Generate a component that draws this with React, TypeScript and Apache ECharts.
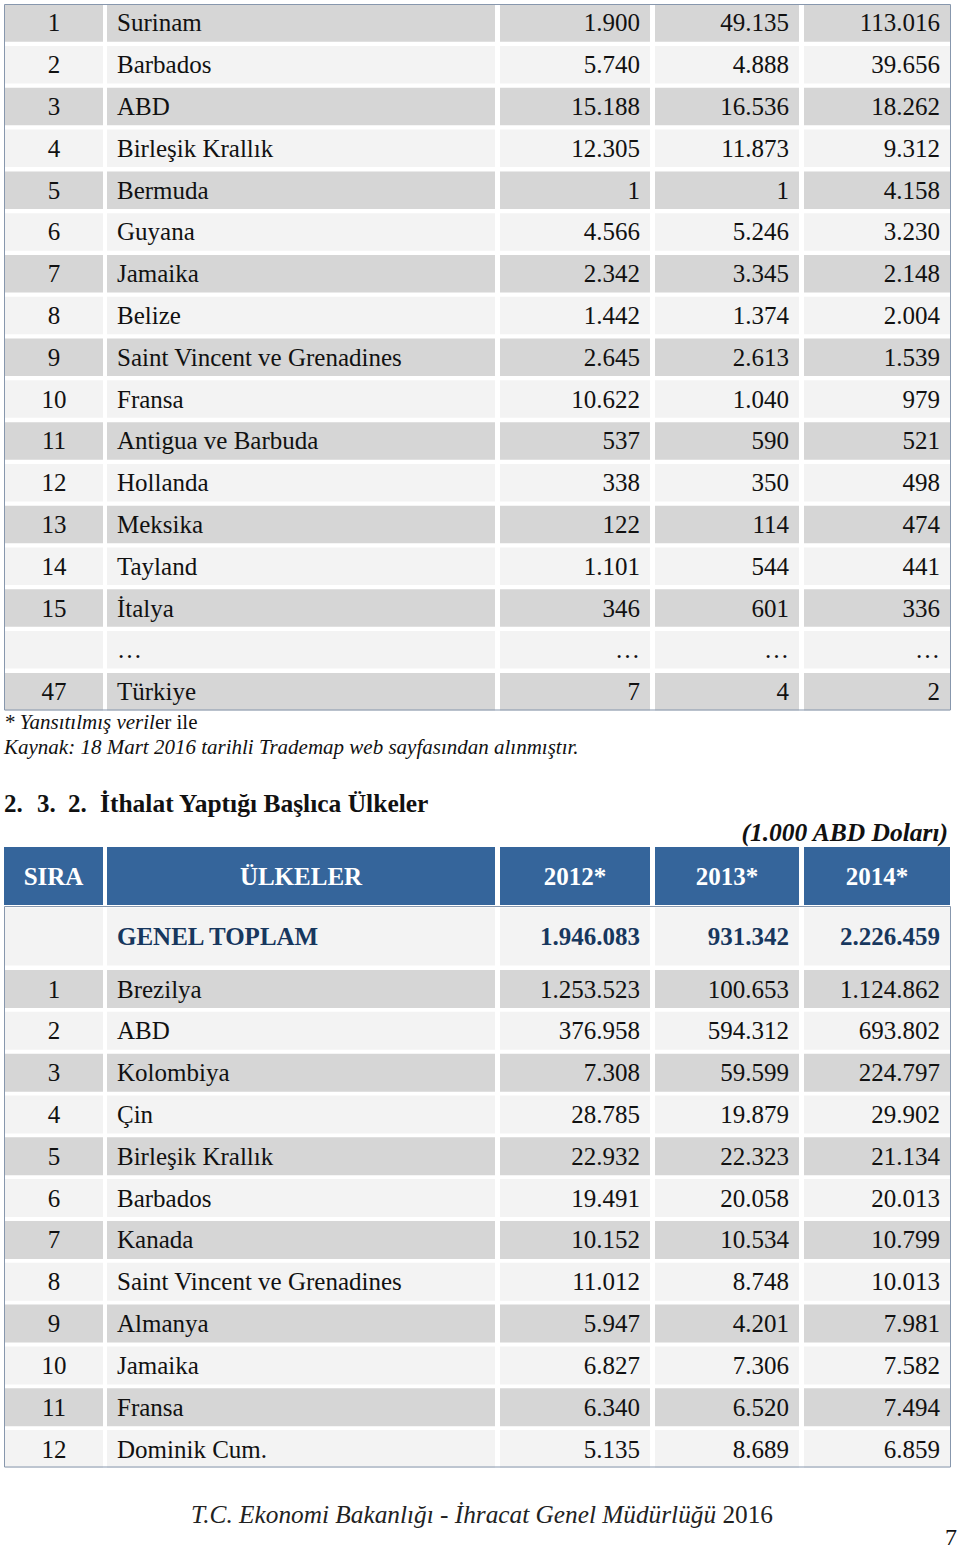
import React, { useEffect, useRef } from "react";
import * as echarts from "echarts";

// ---------- DATA ----------
const exportRanks = ["1", "2", "3", "4", "5", "6", "7", "8", "9", "10", "11", "12", "13", "14", "15", "", "47"];
const exportCountries = [
  "Surinam", "Barbados", "ABD", "Birleşik Krallık", "Bermuda", "Guyana", "Jamaika", "Belize",
  "Saint Vincent ve Grenadines", "Fransa", "Antigua ve Barbuda", "Hollanda", "Meksika", "Tayland",
  "İtalya", "…", "Türkiye",
];
const export2012: (number | null)[] = [1900, 5740, 15188, 12305, 1, 4566, 2342, 1442, 2645, 10622, 537, 338, 122, 1101, 346, null, 7];
const export2013: (number | null)[] = [49135, 4888, 16536, 11873, 1, 5246, 3345, 1374, 2613, 1040, 590, 350, 114, 544, 601, null, 4];
const export2014: (number | null)[] = [113016, 39656, 18262, 9312, 4158, 3230, 2148, 2004, 1539, 979, 521, 498, 474, 441, 336, null, 2];

const headerLabels = ["SIRA", "ÜLKELER", "2012*", "2013*", "2014*"];
const totalLabel = "GENEL TOPLAM";
const importTotal = [1946083, 931342, 2226459];

const importRanks = ["1", "2", "3", "4", "5", "6", "7", "8", "9", "10", "11", "12"];
const importCountries = [
  "Brezilya", "ABD", "Kolombiya", "Çin", "Birleşik Krallık", "Barbados", "Kanada",
  "Saint Vincent ve Grenadines", "Almanya", "Jamaika", "Fransa", "Dominik Cum.",
];
const import2012 = [1253523, 376958, 7308, 28785, 22932, 19491, 10152, 11012, 5947, 6827, 6340, 5135];
const import2013 = [100653, 594312, 59599, 19879, 22323, 20058, 10534, 8748, 4201, 7306, 6520, 8689];
const import2014 = [1124862, 693802, 224797, 29902, 21134, 20013, 10799, 10013, 7981, 7582, 7494, 6859];

// ---------- STYLE / LAYOUT ----------
const SERIF = "'Liberation Serif', 'Times New Roman', serif";
const FS = 25;
const GRAY = "#d6d6d6";
const LIGHT = "#f3f3f3";
const BLUE = "#35659b";
const NAVY = "#17375e";
const TEXT = "#111111";
const BORDER = "#8797ad";

type Align = "left" | "center" | "right";
const COLS: { x0: number; x1: number; align: Align }[] = [
  { x0: 5, x1: 103, align: "center" },
  { x0: 107, x1: 495, align: "left" },
  { x0: 500, x1: 650, align: "right" },
  { x0: 655, x1: 799, align: "right" },
  { x0: 804, x1: 950, align: "right" },
];

function fmt(v: number | null): string {
  if (v === null) return "…";
  return String(v).replace(/\B(?=(\d{3})+(?!\d))/g, ".");
}

interface RowSpec {
  cells: string[];
  fill: string;
  color: string;
  bold: boolean;
  aligns?: Align[];
  firstX?: number;
}

const table1Rows: RowSpec[] = exportRanks.map((r, i) => ({
  cells: [r, exportCountries[i], fmt(export2012[i]), fmt(export2013[i]), fmt(export2014[i])],
  fill: i % 2 === 0 ? GRAY : LIGHT,
  color: TEXT,
  bold: false,
}));

const headRows: RowSpec[] = [
  {
    cells: headerLabels,
    fill: BLUE,
    color: "#ffffff",
    bold: true,
    aligns: ["center", "center", "center", "center", "center"],
    firstX: 4,
  },
  {
    cells: ["", totalLabel, ...importTotal.map(fmt)],
    fill: LIGHT,
    color: NAVY,
    bold: true,
  },
];

const table2Rows: RowSpec[] = importRanks.map((r, i) => ({
  cells: [r, importCountries[i], fmt(import2012[i]), fmt(import2013[i]), fmt(import2014[i])],
  fill: i % 2 === 0 ? GRAY : LIGHT,
  color: TEXT,
  bold: false,
}));

function makeRenderer(rows: RowSpec[], cellH: number) {
  return (params: any, api: any) => {
    const idx = params.dataIndex;
    const row = rows[idx];
    const pt = api.coord([0, idx]);
    const yc = pt[1];
    const children: any[] = [];
    COLS.forEach((c, ci) => {
      const x0 = ci === 0 && row.firstX !== undefined ? row.firstX : c.x0;
      children.push({
        type: "rect",
        shape: { x: x0, y: yc - cellH / 2, width: c.x1 - x0, height: cellH },
        style: { fill: row.fill },
      });
      const txt = row.cells[ci];
      if (txt) {
        const align = row.aligns ? row.aligns[ci] : c.align;
        const tx = align === "center" ? (x0 + c.x1) / 2 : align === "left" ? c.x0 + 10 : c.x1 - 10;
        children.push({
          type: "text",
          x: tx,
          y: yc,
          style: {
            text: txt,
            fill: row.color,
            fontSize: FS,
            fontFamily: SERIF,
            fontWeight: row.bold ? "bold" : "normal",
            align,
            verticalAlign: "middle",
          },
        });
      }
    });
    return { type: "group", children };
  };
}

export default function App() {
  const ref = useRef<HTMLDivElement>(null);

  useEffect(() => {
    if (!ref.current) return;
    const chart = echarts.init(ref.current, undefined, { renderer: "svg" });

    const grids = [
      { left: 0, right: 0, top: 2.1, height: 17 * 41.79 },
      { left: 0, right: 0, top: 845.75, height: 121 },
      { left: 0, right: 0, top: 968.1, height: 12 * 41.82 },
    ];
    const tables = [table1Rows, headRows, table2Rows];
    const cellHs = [37.5, 58, 38];

    const option: any = {
      animation: false,
      backgroundColor: "#ffffff",
      grid: grids,
      xAxis: grids.map((_, i) => ({ type: "value", min: 0, max: 960, show: false, gridIndex: i })),
      yAxis: tables.map((rows, i) => ({
        type: "category",
        inverse: true,
        show: false,
        gridIndex: i,
        data: rows.map((r) => r.cells[1] || String(i)),
      })),
      series: tables.map((rows, i) => ({
        type: "custom",
        xAxisIndex: i,
        yAxisIndex: i,
        clip: false,
        silent: true,
        renderItem: makeRenderer(rows, cellHs[i]),
        data: rows.map((_, j) => [0, j]),
      })),
      graphic: [
        { type: "rect", shape: { x: 4.5, y: 4.5, width: 946, height: 705.5 }, style: { fill: "none", stroke: BORDER, lineWidth: 1 }, z: 10 },
        { type: "rect", shape: { x: 4.5, y: 906.5, width: 946, height: 560.5 }, style: { fill: "none", stroke: BORDER, lineWidth: 1 }, z: 10 },
        {
          type: "text", x: 4, y: 722, z: 10,
          style: {
            text: "{i|* Yansıtılmış veril}{n|er ile}",
            verticalAlign: "middle",
            rich: {
              i: { fontFamily: SERIF, fontSize: 21, fontStyle: "italic", fill: TEXT },
              n: { fontFamily: SERIF, fontSize: 21, fill: TEXT },
            },
          },
        },
        {
          type: "text", x: 4, y: 747, z: 10,
          style: { text: "Kaynak: 18 Mart 2016 tarihli Trademap web sayfasından alınmıştır.", fontFamily: SERIF, fontSize: 21, fontStyle: "italic", fill: TEXT, verticalAlign: "middle" },
        },
        { type: "text", x: 4, y: 803, z: 10, style: { text: "2.", fontFamily: SERIF, fontSize: FS, fontWeight: "bold", fill: TEXT, verticalAlign: "middle" } },
        { type: "text", x: 37, y: 803, z: 10, style: { text: "3.", fontFamily: SERIF, fontSize: FS, fontWeight: "bold", fill: TEXT, verticalAlign: "middle" } },
        { type: "text", x: 68, y: 803, z: 10, style: { text: "2.", fontFamily: SERIF, fontSize: FS, fontWeight: "bold", fill: TEXT, verticalAlign: "middle" } },
        { type: "text", x: 100, y: 803, z: 10, style: { text: "İthalat Yaptığı Başlıca Ülkeler", fontFamily: SERIF, fontSize: 25.5, fontWeight: "bold", fill: TEXT, verticalAlign: "middle" } },
        { type: "text", x: 948, y: 832, z: 10, style: { text: "(1.000 ABD Doları)", fontFamily: SERIF, fontSize: 25.5, fontWeight: "bold", fontStyle: "italic", fill: TEXT, align: "right", verticalAlign: "middle" } },
        {
          type: "text", x: 482, y: 1514, z: 10,
          style: {
            text: "{i|T.C. Ekonomi Bakanlığı - İhracat Genel Müdürlüğü}{n| 2016}",
            align: "center",
            verticalAlign: "middle",
            rich: {
              i: { fontFamily: SERIF, fontSize: 25.3, fontStyle: "italic", fill: "#222222" },
              n: { fontFamily: SERIF, fontSize: 25.3, fill: "#222222" },
            },
          },
        },
        { type: "text", x: 957, y: 1537, z: 10, style: { text: "7", fontFamily: SERIF, fontSize: 24, fill: TEXT, align: "right", verticalAlign: "middle" } },
      ],
    };
    chart.setOption(option);
    return () => chart.dispose();
  }, []);

  return (
    <div
      ref={ref}
      style={{ position: "absolute", left: 0, top: 0, width: 960, height: 1551, background: "#ffffff" }}
    />
  );
}
